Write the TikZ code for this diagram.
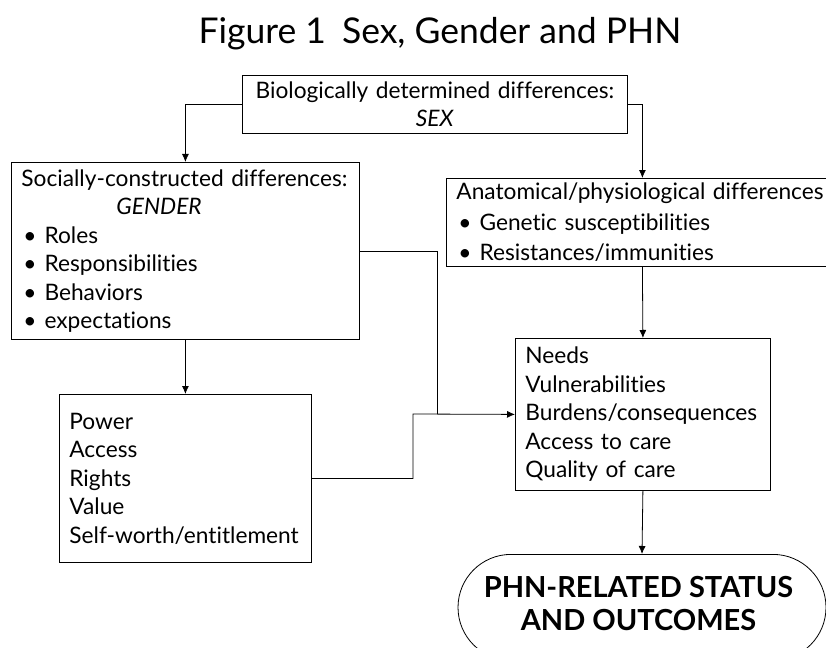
\documentclass[tikz,border=0pt]{standalone}
\usepackage{fontspec}
\setmainfont[Ligatures=NoCommon]{Lato}
\usetikzlibrary{arrows.meta,shapes.misc}

\newcommand{\bul}[1]{\hspace*{2pt}\textbullet\hspace{8pt}#1}

\tikzset{
	box/.style={draw,shape=rectangle,anchor=north west,inner xsep=10pt,inner ysep=0pt,align=left,font=\fontsize{22.7}{28.5}\selectfont},
	outcome/.style={draw,shape=rounded rectangle,anchor=north,inner sep=0pt,align=center,font=\fontsize{29}{33}\selectfont\bfseries},
}

\begin{document}
\begin{tikzpicture}[x=1pt,y=-1pt,>={Latex[length=8pt,width=7pt]},line width=0.8pt]
					\useasboundingbox (0,0) rectangle (826,647);
					\clip (0,0) rectangle (826,647);
					\node (title) at (440,34) {\fontsize{35.5}{35.5}\selectfont Figure 1\hspace{16pt}Sex, Gender and PHN};

					\node (sex) [box,align=center,text width=365pt,minimum height=58pt] at (242,75) {
						Biologically determined differences:\\
						\textit{SEX}
					};
					\node (gender) [box,text width=328pt,minimum height=177pt] at (11,162) {
						Socially-constructed differences:\\
						\hspace*{95pt}\textit{GENDER}\\
						\bul{Roles}\\
						\bul{Responsibilities}\\
						\bul{Behaviors}\\
						\bul{expectations}
					};
					\node (anatomy) [box,text width=372pt,minimum height=88pt,font=\fontsize{22.7}{30.5}\selectfont] at (446,178) {
						Anatomical/physiological differences\\
						\bul{Genetic susceptibilities}\\
						\bul{Resistances/immunities}
					};
					\node (power) [box,text width=232pt,minimum height=168pt] at (59,394) {
						Power\\
						Access\\
						Rights\\
						Value\\
						Self-worth/entitlement
					};
					\node (needs) [box,text width=235pt,minimum height=152pt] at (515,338) {
						Needs\\
						Vulnerabilities\\
						Burdens/consequences\\
						Access to care\\
						Quality of care
					};
					\node (status) [outcome,minimum width=368pt,minimum height=106pt] at (642,554) {
						\raisebox{6pt}{\begin{tabular}{@{}c@{}}
							PHN-RELATED STATUS\\
							AND OUTCOMES
						\end{tabular}}
					};

					\coordinate (join) at (437,414);
					\coordinate (bend) at (413,414);
					\draw[->] (sex.west) -| (gender.north);
					\draw[->] (sex.east) -| (anatomy.north);
					\draw[->] (gender.south) -- (power.north);
					\draw[->] (anatomy.south) -- (needs.north);
					\draw[->] (needs.south) -- (status.north);
					\draw (gender.east) -| (join);
					\draw[->] (power.east) -| (bend) -- (needs.west);
				\end{tikzpicture}
\end{document}
